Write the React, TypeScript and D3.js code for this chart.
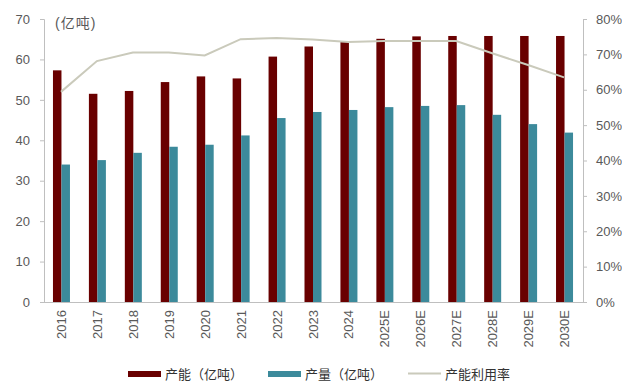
import React, { useRef, useEffect } from 'react';
import * as d3 from 'd3';

// data
const years = ['2016', '2017', '2018', '2019', '2020', '2021', '2022', '2023', '2024', '2025E', '2026E', '2027E', '2028E', '2029E', '2030E'];
const capacity = [57.3, 51.5, 52.2, 54.4, 55.8, 55.3, 60.7, 63.2, 64.4, 65.1, 65.7, 65.8, 65.8, 65.8, 65.8];
const output = [34.0, 35.1, 36.9, 38.4, 38.9, 41.2, 45.5, 47.0, 47.5, 48.2, 48.5, 48.7, 46.3, 44.0, 41.9];
const utilization = [59.4, 68.1, 70.5, 70.5, 69.7, 74.3, 74.6, 74.2, 73.5, 73.8, 73.8, 73.8, 70.3, 67.0, 63.5];
const leftTicks = [0, 10, 20, 30, 40, 50, 60, 70];
const rightTicks = [0, 10, 20, 30, 40, 50, 60, 70, 80];

const W = 630;
const H = 390;
const FONT = 'Arial, "Liberation Sans", "Noto Sans CJK SC", sans-serif';
const RED = '#690000';
const TEAL = '#3c8a9b';
const LINE = '#cacabb';
const AXIS = '#bfbfbf';
const TXT = '#595959';

const Chart = () => {
  const svgRef = useRef<SVGSVGElement>(null);

  useEffect(() => {
    const svg = d3.select(svgRef.current);
    svg.selectAll('*').remove();

    const left = 44, right = 583, top = 19, bottom = 302;

    const x = d3.scaleBand().domain(years).range([left, right]);
    const yL = d3.scaleLinear().domain([0, 70]).range([bottom, top]);
    const yR = d3.scaleLinear().domain([0, 80]).range([bottom, top]);
    const barW = 8.5;

    const g = svg.append('g');

    // capacity bars
    g.selectAll('.cap')
      .data(capacity)
      .enter()
      .append('rect')
      .attr('x', (d, i) => x(years[i])! + x.bandwidth() / 2 - barW - 0.5)
      .attr('y', d => yL(d))
      .attr('width', barW)
      .attr('height', d => bottom - yL(d))
      .attr('fill', RED);

    // output bars
    g.selectAll('.out')
      .data(output)
      .enter()
      .append('rect')
      .attr('x', (d, i) => x(years[i])! + x.bandwidth() / 2 - 0.5)
      .attr('y', d => yL(d))
      .attr('width', barW)
      .attr('height', d => bottom - yL(d))
      .attr('fill', TEAL);

    // utilization line
    const line = d3.line<number>()
      .x((d, i) => x(years[i])! + x.bandwidth() / 2 - 1)
      .y(d => yR(d));
    g.append('path')
      .datum(utilization)
      .attr('d', line)
      .attr('fill', 'none')
      .attr('stroke', LINE)
      .attr('stroke-width', 2);

    // left axis
    const axL = g.append('g')
      .attr('transform', `translate(${left},0)`)
      .call(d3.axisLeft(yL).tickValues(leftTicks).tickSize(4).tickPadding(10).tickFormat(d3.format('d')));
    axL.select('.domain').attr('stroke', AXIS);
    axL.selectAll('line').attr('stroke', AXIS);
    axL.selectAll('text').attr('fill', TXT).style('font-size', '13px').style('font-family', FONT);

    // right axis
    const axR = g.append('g')
      .attr('transform', `translate(${right},0)`)
      .call(d3.axisRight(yR).tickValues(rightTicks).tickSize(4).tickPadding(9).tickFormat(d => `${d}%`));
    axR.select('.domain').attr('stroke', AXIS);
    axR.selectAll('line').attr('stroke', AXIS);
    axR.selectAll('text').attr('fill', TXT).style('font-size', '13px').style('font-family', FONT);

    // bottom axis
    g.append('line')
      .attr('x1', left).attr('x2', right)
      .attr('y1', bottom + 0.5).attr('y2', bottom + 0.5)
      .attr('stroke', AXIS);

    g.selectAll('.xl')
      .data(years)
      .enter()
      .append('text')
      .attr('transform', d => `translate(${x(d)! + x.bandwidth() / 2 + 4},${bottom + 8}) rotate(-90)`)
      .attr('text-anchor', 'end')
      .attr('fill', TXT)
      .style('font-size', '13px')
      .style('font-family', FONT)
      .text(d => d);

    // unit label
    g.append('text')
      .attr('x', 55).attr('y', 28)
      .attr('fill', TXT)
      .style('font-size', '14px')
      .style('font-family', FONT)
      .style('letter-spacing', '1px')
      .text('(亿吨)');

    // legend
    const legend = [
      { label: '产能（亿吨）', color: RED, x: 128, kind: 'rect' },
      { label: '产量（亿吨）', color: TEAL, x: 268, kind: 'rect' },
      { label: '产能利用率', color: LINE, x: 408, kind: 'line' },
    ];
    legend.forEach(item => {
      if (item.kind === 'rect') {
        g.append('rect')
          .attr('x', item.x).attr('y', 371)
          .attr('width', 33).attr('height', 6)
          .attr('fill', item.color);
      } else {
        g.append('line')
          .attr('x1', item.x).attr('x2', item.x + 33)
          .attr('y1', 373.5).attr('y2', 373.5)
          .attr('stroke', item.color)
          .attr('stroke-width', 2);
      }
      g.append('text')
        .attr('x', item.x + 37).attr('y', 379)
        .attr('fill', '#333333')
        .style('font-size', '13px')
        .style('font-family', FONT)
        .text(item.label);
    });
  }, []);

  return <svg ref={svgRef} width={W} height={H} style={{ display: 'block', background: '#fff' }} />;
};

export default function App() {
  return (
    <div style={{ margin: -8, width: W, height: H }}>
      <Chart />
    </div>
  );
}
